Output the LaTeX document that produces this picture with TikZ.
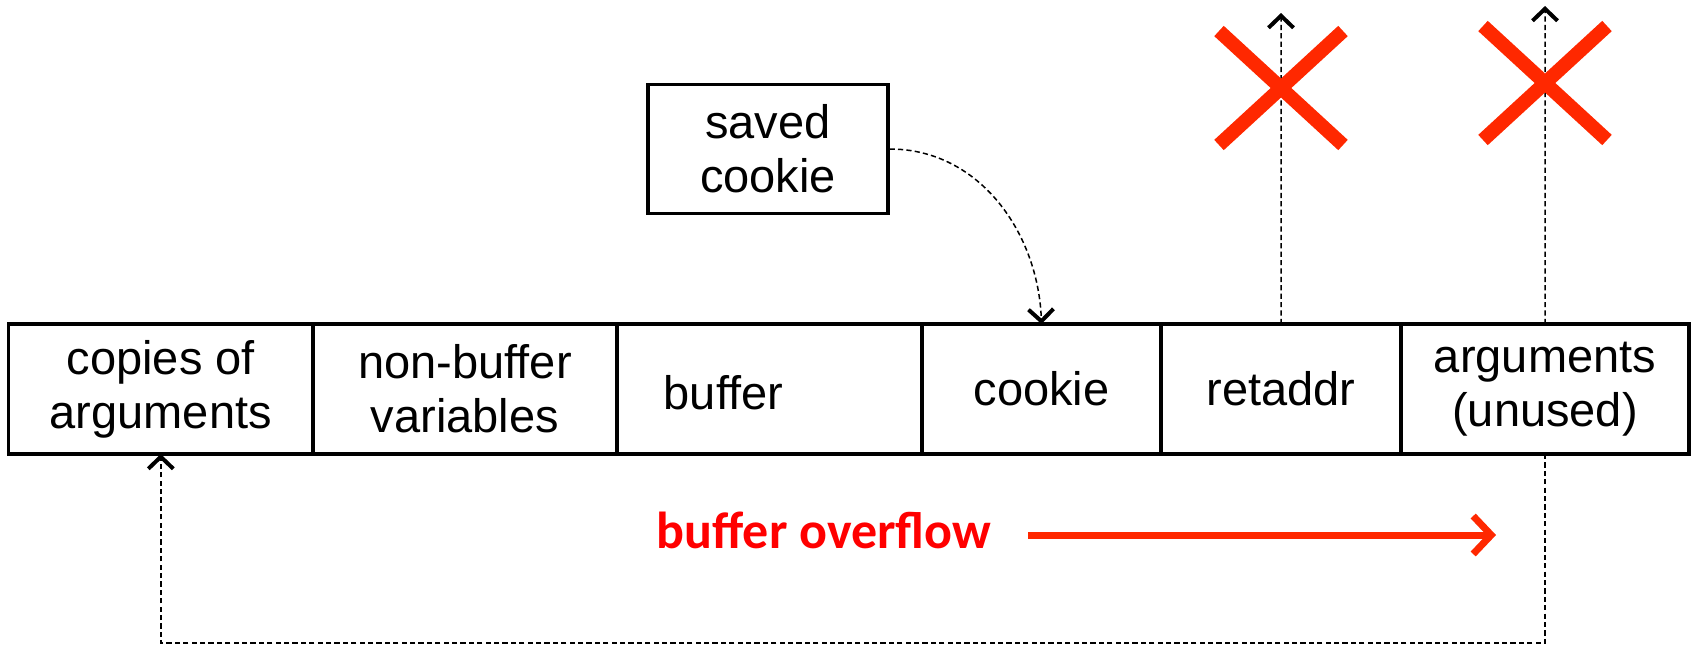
\documentclass[tikz,border=0pt]{standalone}
\usepackage{fontspec}
\setmainfont{Liberation Sans}
\newfontfamily\calibrifont{Carlito}
\usetikzlibrary{arrows.meta, positioning}
\definecolor{alarm}{RGB}{255, 0, 0}
\definecolor{cross}{RGB}{255, 40, 0}
\tikzset{
    cellnode/.style = {draw, rectangle, line width=1.6pt, minimum height=65pt, inner sep=0em,
      outer sep=0em, node distance=0em, align=center, font=\fontsize{23.5}{27}\selectfont},
    boxnode/.style = {draw, rectangle, line width=1.6pt, minimum width=120pt, minimum height=64.5pt,
      inner sep=0em, align=center, font=\fontsize{23.5}{27}\selectfont},
    labelnode/.style = {font=\fontsize{23.5}{27}\selectfont},
    dashconnect/.style = {line width=0.75pt, dash pattern=on 2.6pt off 1.6pt,
      -{Straight Barb[length=6pt, width=12.5pt, line width=2pt]}},
    crossline/.style = {cross, line width=7pt},
    overflow/.style = {cross, line width=3.5pt, -{Straight Barb[length=9pt, width=19pt]}}
}

\begin{document}
\begin{tikzpicture}[x=0.5pt, y=0.5pt]
\useasboundingbox (0,0) rectangle (1694,-645);
\node [name=args, cellnode, minimum width=152.2pt, anchor=north west] at (8.6,-324) {copies of\\arguments};
\node [name=vars, cellnode, minimum width=152pt, right=of args] {non-buffer\\variables};
\node [name=buf, cellnode, minimum width=152.5pt, right=of vars,
  label={[labelnode, xshift=-23pt, yshift=-2pt]center:buffer}] {};
\node [name=cookie, cellnode, minimum width=119.5pt, right=of buf] {cookie};
\node [name=ret, cellnode, minimum width=120pt, right=of cookie] {retaddr};
\node [name=unused, cellnode, minimum width=144pt, right=of ret] {arguments\\(unused)};
\node [name=saved, boxnode] at (768,-149) {saved\\cookie};

\coordinate (retup) at (1281,-13);
\coordinate (unusedup) at (1545,-6);
\coordinate (retx) at (1281,-88);
\coordinate (unusedx) at (1545,-83);

\draw [dashconnect] (saved.east) to [out=0, in=92] (cookie.north);
\draw [dashconnect] (ret.north) -- (retup);
\draw [dashconnect] (unused.north) -- (unusedup);
\draw [dashconnect] (unused.south) -- ++(0,-189) -| (args.south);

\foreach \c in {retx, unusedx}
  \draw [crossline] (\c) ++(-62,57) -- ++(124,-114) (\c) ++(-62,-57) -- ++(124,114);

\node [name=ovf, text=alarm, font=\calibrifont\bfseries\fontsize{26}{30}\selectfont] at (824,-530) {buffer overflow};
\coordinate (ovfend) at (1496,-535);
\draw [overflow, shorten <=15pt] (ovf.east |- ovfend) -- (ovfend);
\end{tikzpicture}
\end{document}
